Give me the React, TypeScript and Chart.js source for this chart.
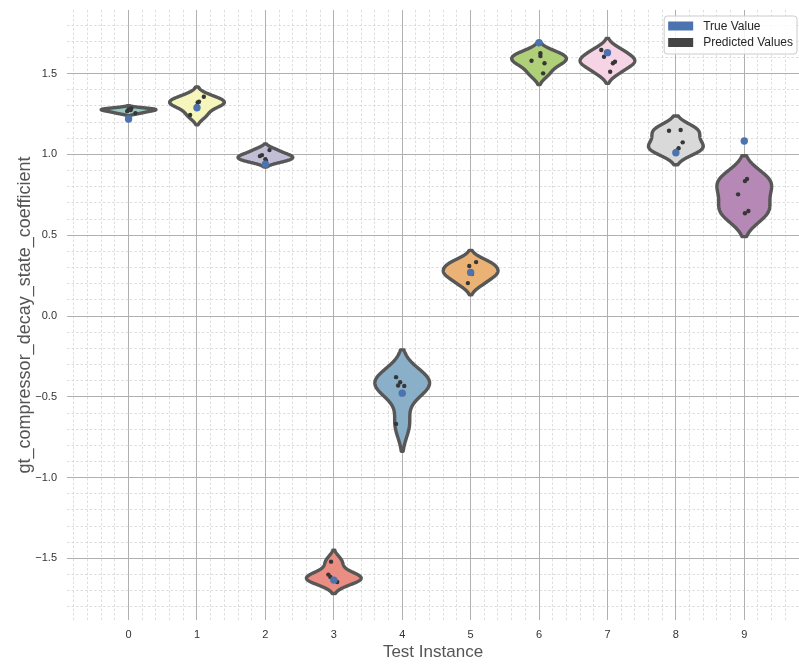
import React, { useEffect, useRef } from "react";
import { Chart, registerables } from "chart.js";

Chart.register(...registerables);

// ---- data ----
const CATEGORIES = [0, 1, 2, 3, 4, 5, 6, 7, 8, 9];
const TRUE_VALUES = [1.219, 1.289, 0.94, -1.634, -0.477, 0.27, 1.691, 1.63, 1.011, 1.083];
const PREDICTED = [
  [1.256, 1.268, 1.275, 1.28, 1.285],
  [1.244, 1.3, 1.322, 1.326, 1.357],
  [0.96, 0.97, 0.99, 0.996, 1.027],
  [-1.646, -1.63, -1.615, -1.6, -1.52],
  [-0.668, -0.433, -0.43, -0.41, -0.378],
  [0.204, 0.26, 0.266, 0.31, 0.334],
  [1.502, 1.564, 1.58, 1.609, 1.626],
  [1.512, 1.564, 1.574, 1.605, 1.646],
  [1.023, 1.038, 1.075, 1.147, 1.151],
  [0.636, 0.65, 0.753, 0.835, 0.848],
];
// horizontal strip jitter (category units) for each predicted value
const JITTER = [
  [0.1, -0.02, 0.03, 0.0, 0.04],
  [-0.1, 0.0, 0.01, 0.03, 0.1],
  [0.01, 0.0, -0.08, -0.05, 0.06],
  [0.05, 0.0, -0.05, -0.08, -0.04],
  [-0.09, 0.03, -0.06, -0.03, -0.09],
  [-0.04, 0.02, 0.0, -0.02, 0.08],
  [0.06, 0.08, -0.11, 0.02, 0.02],
  [0.04, 0.08, 0.11, -0.05, -0.09],
  [0.01, 0.04, 0.1, -0.1, 0.07],
  [0.01, 0.06, -0.09, 0.01, 0.04],
];
const Y_TICKS = [-1.5, -1.0, -0.5, 0.0, 0.5, 1.0, 1.5];
const X_RANGE = [-0.9, 9.8];
const Y_RANGE = [-1.881, 1.894];

// ---- style ----
const SET3 = ["#8dd3c7", "#ffffb3", "#bebada", "#fb8072", "#80b1d3", "#fdb462", "#b3de69", "#fccde5", "#d9d9d9", "#bc80bd"];
const EDGE = "#575757";
const TRUE_COLOR = "#4c72b0";
const PRED_COLOR = "#363636";
const FONT = "'Liberation Sans', Arial, sans-serif";
const VIOLIN_HALF_WIDTH = 0.4;

function desaturate(hex: string, prop: number): string {
  const r = parseInt(hex.slice(1, 3), 16) / 255;
  const g = parseInt(hex.slice(3, 5), 16) / 255;
  const b = parseInt(hex.slice(5, 7), 16) / 255;
  const max = Math.max(r, g, b);
  const min = Math.min(r, g, b);
  const l = (max + min) / 2;
  let h = 0;
  let s = 0;
  if (max !== min) {
    const d = max - min;
    s = l > 0.5 ? d / (2 - max - min) : d / (max + min);
    if (max === r) h = (g - b) / d + (g < b ? 6 : 0);
    else if (max === g) h = (b - r) / d + 2;
    else h = (r - g) / d + 4;
    h /= 6;
  }
  s *= prop;
  const hue2rgb = (p: number, q: number, t: number) => {
    if (t < 0) t += 1;
    if (t > 1) t -= 1;
    if (t < 1 / 6) return p + (q - p) * 6 * t;
    if (t < 1 / 2) return q;
    if (t < 2 / 3) return p + (q - p) * (2 / 3 - t) * 6;
    return p;
  };
  const q = l < 0.5 ? l * (1 + s) : l + s - l * s;
  const p = 2 * l - q;
  const to = (v: number) => Math.round(v * 255).toString(16).padStart(2, "0");
  return "#" + to(hue2rgb(p, q, h + 1 / 3)) + to(hue2rgb(p, q, h)) + to(hue2rgb(p, q, h - 1 / 3));
}

const FILLS = SET3.map((c) => desaturate(c, 0.75));

// Gaussian KDE (Scott bandwidth, cut = 2), normalised to max density = 1
function kdeProfile(vals: number[], gridsize = 120, cut = 2): [number, number][] {
  const n = vals.length;
  const mean = vals.reduce((a, v) => a + v, 0) / n;
  const sd = Math.sqrt(vals.reduce((a, v) => a + (v - mean) * (v - mean), 0) / (n - 1));
  const bw = sd * Math.pow(n, -1 / 5);
  const lo = Math.min(...vals) - cut * bw;
  const hi = Math.max(...vals) + cut * bw;
  const out: [number, number][] = [];
  let peak = 0;
  for (let k = 0; k < gridsize; k++) {
    const v = lo + ((hi - lo) * k) / (gridsize - 1);
    let d = 0;
    for (const xi of vals) {
      const z = (v - xi) / bw;
      d += Math.exp(-0.5 * z * z);
    }
    peak = Math.max(peak, d);
    out.push([v, d]);
  }
  return out.map(([v, d]) => [v, d / peak]);
}

const violinPlugin = {
  id: "violins",
  beforeDatasetsDraw(chart: any) {
    const { ctx, chartArea } = chart;
    const x = chart.scales.x;
    const y = chart.scales.y;
    ctx.save();
    ctx.beginPath();
    ctx.rect(chartArea.left, chartArea.top, chartArea.width, chartArea.height);
    ctx.clip();
    PREDICTED.forEach((vals, i) => {
      const prof = kdeProfile(vals);
      const c = CATEGORIES[i];
      ctx.beginPath();
      prof.forEach(([v, w], k) => {
        const px = x.getPixelForValue(c + w * VIOLIN_HALF_WIDTH);
        const py = y.getPixelForValue(v);
        if (k === 0) ctx.moveTo(px, py);
        else ctx.lineTo(px, py);
      });
      for (let k = prof.length - 1; k >= 0; k--) {
        const [v, w] = prof[k];
        ctx.lineTo(x.getPixelForValue(c - w * VIOLIN_HALF_WIDTH), y.getPixelForValue(v));
      }
      ctx.closePath();
      ctx.fillStyle = FILLS[i];
      ctx.fill();
      ctx.lineWidth = 3.4;
      ctx.lineJoin = "round";
      ctx.strokeStyle = EDGE;
      ctx.stroke();
    });
    ctx.restore();
  },
};

const legendPlugin = {
  id: "legendBox",
  afterDraw(chart: any) {
    const { ctx, chartArea } = chart;
    const items = chart.data.datasets.map((ds: any) => ({ label: ds.label, color: ds.legendColor }));
    ctx.save();
    ctx.font = `12px ${FONT}`;
    const textW = Math.max(...items.map((it: any) => ctx.measureText(it.label).width));
    const padX = 4;
    const patchW = 25;
    const patchH = 9;
    const gap = 10;
    const rowH = 16.5;
    const boxW = padX + patchW + gap + textW + padX;
    const boxH = 38;
    const right = chartArea.right - 2;
    const left = right - boxW;
    const top = chartArea.top + 6;
    ctx.beginPath();
    ctx.roundRect(left, top, boxW, boxH, 3);
    ctx.fillStyle = "rgba(255,255,255,0.85)";
    ctx.fill();
    ctx.lineWidth = 1;
    ctx.strokeStyle = "#cccccc";
    ctx.stroke();
    items.forEach((it: any, k: number) => {
      const cy = top + 10 + k * rowH;
      ctx.fillStyle = it.color;
      ctx.fillRect(left + padX, cy - patchH / 2, patchW, patchH);
      ctx.fillStyle = "#262626";
      ctx.textBaseline = "middle";
      ctx.textAlign = "left";
      ctx.fillText(it.label, left + padX + patchW + gap, cy + 0.5);
    });
    ctx.restore();
  },
};

function minorTicks(lo: number, hi: number, step: number, major: number) {
  const out: { value: number }[] = [];
  const start = Math.ceil(lo / step - 1e-9);
  const end = Math.floor(hi / step + 1e-9);
  for (let k = start; k <= end; k++) {
    const v = Math.round(k * step * 1000) / 1000;
    const r = v / major;
    if (Math.abs(r - Math.round(r)) < 1e-6) continue;
    out.push({ value: v });
  }
  return out;
}

const fmt = (v: number) => v.toFixed(1).replace("-", "\u2212");

const fitVertical = (w: number) => (s: any) => {
  s.width = w;
  s.paddingTop = 0;
  s.paddingBottom = 0;
};
const fitHorizontal = (h: number) => (s: any) => {
  s.height = h;
  s.paddingLeft = 0;
  s.paddingRight = 0;
};

export default function App() {
  const ref = useRef<HTMLCanvasElement | null>(null);

  useEffect(() => {
    if (!ref.current) return;
    const predictedPoints = PREDICTED.flatMap((vals, i) =>
      vals.map((v, k) => ({ x: CATEGORIES[i] + JITTER[i][k], y: v }))
    );
    const truePoints = TRUE_VALUES.map((v, i) => ({ x: CATEGORIES[i], y: v }));

    const chart = new Chart(ref.current, {
      type: "scatter",
      data: {
        datasets: [
          {
            label: "True Value",
            data: truePoints,
            backgroundColor: TRUE_COLOR,
            borderWidth: 0,
            pointRadius: 3.7,
            order: 0,
            legendColor: TRUE_COLOR,
          } as any,
          {
            label: "Predicted Values",
            data: predictedPoints,
            backgroundColor: PRED_COLOR,
            borderWidth: 0,
            pointRadius: 2.2,
            order: 1,
            legendColor: "#444444",
          } as any,
        ],
      },
      options: {
        responsive: false,
        animation: false,
        devicePixelRatio: 1,
        layout: { autoPadding: false, padding: { top: 10, right: 0, bottom: 0, left: 0 } },
        plugins: {
          legend: { display: false },
          tooltip: { enabled: false },
        },
        scales: {
          xMinor: {
            type: "linear",
            position: "bottom",
            min: X_RANGE[0],
            max: X_RANGE[1],
            afterBuildTicks: (s: any) => {
              s.ticks = minorTicks(X_RANGE[0], X_RANGE[1], 0.2, 1);
            },
            afterFit: fitHorizontal(0),
            ticks: { display: false },
            grid: { color: "#d6d6d6", lineWidth: 0.8, drawTicks: false },
            border: { display: false, dash: [2.5, 2] },
          },
          yMinor: {
            type: "linear",
            position: "left",
            min: Y_RANGE[0],
            max: Y_RANGE[1],
            afterBuildTicks: (s: any) => {
              s.ticks = minorTicks(Y_RANGE[0], Y_RANGE[1], 0.1, 0.5);
            },
            afterFit: fitVertical(0),
            ticks: { display: false },
            grid: { color: "#d6d6d6", lineWidth: 0.8, drawTicks: false },
            border: { display: false, dash: [2.5, 2] },
          },
          x: {
            type: "linear",
            position: "bottom",
            min: X_RANGE[0],
            max: X_RANGE[1],
            afterBuildTicks: (s: any) => {
              s.ticks = CATEGORIES.map((v) => ({ value: v }));
            },
            afterFit: fitHorizontal(47),
            ticks: {
              callback: (v: any) => String(v),
              font: { size: 11, family: FONT },
              color: "#333333",
              padding: 8,
              autoSkip: false,
              maxRotation: 0,
            },
            grid: { color: "#b0b0b0", lineWidth: 1, drawTicks: false },
            border: { display: false },
            title: {
              display: true,
              text: "Test Instance",
              font: { size: 17, family: FONT },
              color: "#555555",
              padding: { top: 0, bottom: 4 },
            },
          },
          y: {
            type: "linear",
            position: "left",
            min: Y_RANGE[0],
            max: Y_RANGE[1],
            afterBuildTicks: (s: any) => {
              s.ticks = Y_TICKS.map((v) => ({ value: v }));
            },
            afterFit: fitVertical(67),
            ticks: {
              callback: (v: any) => fmt(Number(v)),
              font: { size: 11, family: FONT },
              color: "#333333",
              padding: 10,
            },
            grid: { color: "#b0b0b0", lineWidth: 1, drawTicks: false },
            border: { display: false },
            title: {
              display: true,
              text: "gt_compressor_decay_state_coefficient",
              font: { size: 18, family: FONT },
              color: "#555555",
              padding: { top: 14, bottom: 0 },
            },
          },
        } as any,
      },
      plugins: [violinPlugin, legendPlugin],
    });
    return () => chart.destroy();
  }, []);

  return (
    <div style={{ position: "fixed", left: 0, top: 0, width: 799, height: 667, background: "#ffffff" }}>
      <canvas ref={ref} width={799} height={667} style={{ display: "block" }} />
    </div>
  );
}
